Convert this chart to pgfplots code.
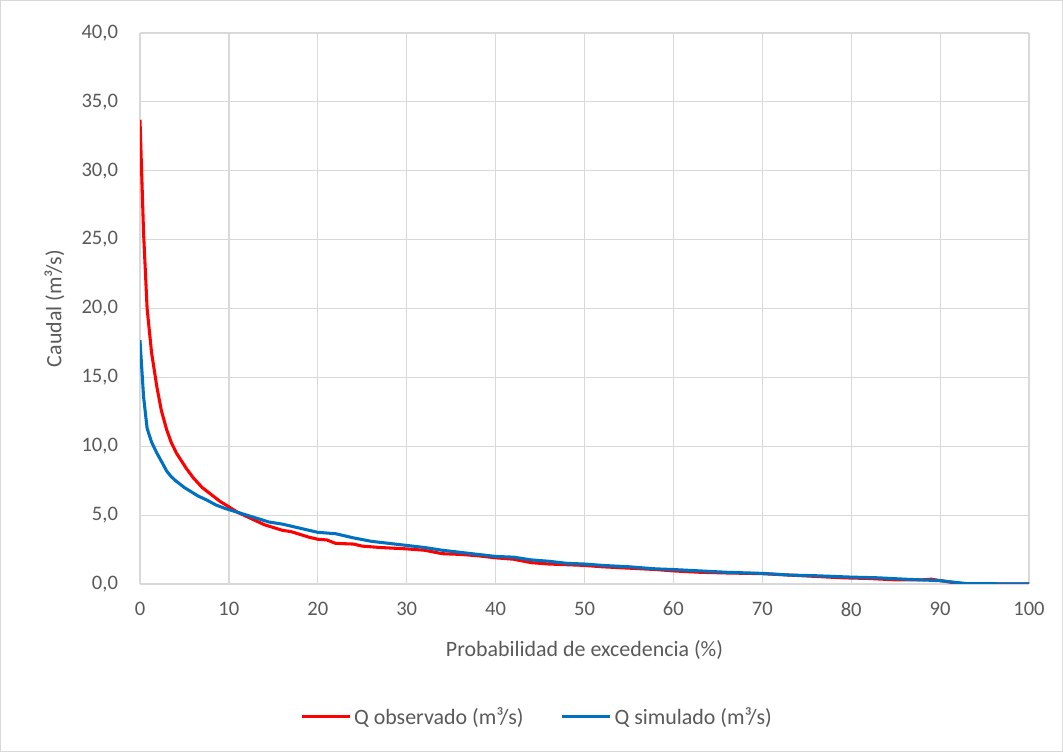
\documentclass[border=0pt]{standalone}
\usepackage{pgfplots}
\pgfplotsset{compat=1.18}
\usepackage{fontspec}
\setmainfont{Carlito}
\definecolor{txt}{HTML}{595959}
\definecolor{grd}{HTML}{D9D9D9}
\definecolor{axl}{HTML}{BFBFBF}
\definecolor{obs}{HTML}{FF0000}
\definecolor{sim}{HTML}{0070C0}
\begin{document}
\begin{tikzpicture}
\draw[grd, line width=0.75bp] (0.375bp,0.375bp) rectangle (796.875bp,563.625bp);
\begin{axis}[
  at={(105bp,126bp)}, anchor=south west,
  scale only axis, width=666.75bp, height=413.25bp,
  xmin=0, xmax=100, ymin=0, ymax=40,
  xtick={0,10,...,100}, ytick={0,5,...,40},
  grid=major, major grid style={grd, line width=0.9bp},
  axis line style={draw=none},
  axis x line*=bottom, axis y line*=left,
  x axis line style={axl, line width=0.9bp},
  tick style={draw=none},
  ticklabel style={font=\fontsize{15.5}{17}\selectfont, text=txt},
  label style={font=\fontsize{16.5}{18}\selectfont, text=txt},
  yticklabel style={/pgf/number format/fixed, /pgf/number format/fixed zerofill,
    /pgf/number format/precision=1, /pgf/number format/use comma, xshift=-13bp},
  /pgf/number format/assume math mode=true,
  xticklabel style={yshift=-10bp},
  xlabel={Probabilidad de excedencia (\%)},
  xlabel style={yshift=-11bp},
  ylabel={Caudal (m³/s)},
  ylabel style={yshift=6bp},
  legend style={at={(0.447,-0.241)}, anchor=center, draw=none, legend columns=2,
    font=\fontsize{16.5}{18}\selectfont, text=txt,
    /tikz/every even column/.append style={column sep=26bp}},
  legend cell align=left,
  legend image code/.code={\draw[#1, line width=2.3bp] (0bp,0bp) -- (36bp,0bp);},
]
\addplot[obs, line width=2.3bp] coordinates {
(0,33.7) (0.4,25.5) (0.8,20.0) (1.3,16.8) (1.9,14.3) (2.4,12.6) (3,11.2) (3.5,10.3) (4.1,9.5)
(5.2,8.4) (6,7.7) (7,7.0) (8,6.5) (9,6.0) (10,5.6) (11,5.2) (12,4.9) (13,4.6) (14,4.3)
(15,4.1) (16,3.9) (17,3.8) (18,3.6) (19,3.4) (20,3.25) (21,3.2) (22,2.95) (24,2.9) (25,2.75)
(27,2.65) (30,2.55) (32,2.45) (34,2.2) (36,2.15) (38,2.05) (40,1.9) (42,1.8) (44,1.55)
(46,1.45) (48,1.4) (50,1.35) (52,1.25) (55,1.15) (58,1.05) (60,0.95) (63,0.85) (66,0.8)
(70,0.75) (73,0.65) (76,0.55) (79,0.45) (82,0.4) (85,0.3) (88,0.3) (89,0.35) (90,0.25)
(92,0.05) (93,0.0) (100,0.0)
};
\addlegendentry{Q observado (m³/s)}
\addplot[sim, line width=2.3bp] coordinates {
(0,17.7) (0.4,13.6) (0.8,11.3) (1.3,10.3) (1.9,9.5) (2.5,8.8) (3,8.2) (3.5,7.8) (4,7.5)
(4.5,7.25) (5,7.0) (5.5,6.8) (6.5,6.4) (7.5,6.1) (8.5,5.75) (9.5,5.5) (10.5,5.3) (11.5,5.1)
(12.5,4.9) (13.5,4.7) (14.5,4.5) (16,4.35) (17,4.2) (18,4.05) (19,3.9) (20,3.75) (22,3.65)
(24,3.35) (26,3.1) (28,2.95) (30,2.8) (32,2.65) (34,2.45) (36,2.3) (38,2.15) (40,2.0)
(42,1.95) (44,1.75) (46,1.65) (48,1.5) (50,1.45) (52,1.35) (55,1.25) (58,1.1) (60,1.05)
(63,0.95) (66,0.85) (70,0.77) (73,0.65) (76,0.6) (80,0.5) (83,0.45) (86,0.35) (90,0.24)
(92,0.1) (93,0.03) (100,0.0)
};
\addlegendentry{Q simulado (m³/s)}
\end{axis}
\end{tikzpicture}
\end{document}
